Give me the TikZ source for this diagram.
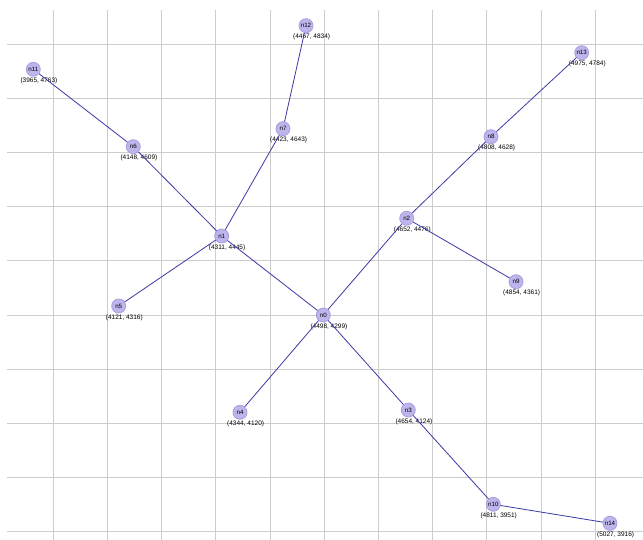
\documentclass[tikz,border=0pt]{standalone}
\usepackage{fontspec}
\setmainfont{Liberation Sans}
\pgfdeclarelayer{gridlayer}
\pgfdeclarelayer{labellayer}
\pgfdeclarelayer{edgelayer}
\pgfsetlayers{gridlayer,labellayer,edgelayer,main}
\definecolor{gridc}{HTML}{CCCCCC}
\definecolor{nodefill}{HTML}{BDB5EC}
\definecolor{nodeline}{HTML}{A99FE0}
\definecolor{edgec}{HTML}{3A3AA6}
\tikzset{
  vert/.style={circle, fill=nodefill, draw=nodeline, line width=0.8pt, minimum size=14pt, inner sep=0pt, font=\fontsize{6.2}{7}\selectfont},
  coordlab/.style={anchor=west, inner sep=0pt, font=\fontsize{6.5}{7}\selectfont},
  edge/.style={draw=edgec, line width=0.8pt},
  gridline/.style={draw=gridc, line width=0.9pt}
}
\newcommand{\vtx}[4]{%
  \node[vert] (#1) at (#2,#3) {#1};
  \begin{pgfonlayer}{labellayer}
    \node[coordlab] (#1l) at ([xshift=-13pt,yshift=-11.6pt]#1.center) {#4};
  \end{pgfonlayer}}
\begin{document}
\begin{tikzpicture}[x=1pt,y=-1pt]
\useasboundingbox (0,0) rectangle (643,540);
\begin{pgfonlayer}{gridlayer}
\fill[white] (0,0) rectangle (643,540);
\foreach \k in {0,...,10} {\draw[gridline] (53.3+54.2*\k,10) -- (53.3+54.2*\k,540);}
\foreach \k in {0,...,9} {\draw[gridline] (7,44+54.2*\k) -- (643,44+54.2*\k);}
\end{pgfonlayer}
\vtx{n0}{323.3}{315}{(4498, 4299)}
\vtx{n1}{221.7}{236}{(4311, 4445)}
\vtx{n2}{406.7}{218.3}{(4652, 4476)}
\vtx{n3}{408.3}{410}{(4654, 4124)}
\vtx{n4}{240}{412.3}{(4344, 4120)}
\vtx{n5}{118.7}{306}{(4121, 4316)}
\vtx{n6}{133.3}{146.7}{(4148, 4609)}
\vtx{n7}{283}{128.7}{(4423, 4643)}
\vtx{n8}{491}{136.7}{(4808, 4628)}
\vtx{n9}{516}{281.7}{(4854, 4361)}
\vtx{n10}{493.3}{504.3}{(4811, 3951)}
\vtx{n11}{33.3}{69.3}{(3965, 4763)}
\vtx{n12}{306}{25.7}{(4467, 4834)}
\vtx{n13}{581.7}{52.7}{(4975, 4784)}
\vtx{n14}{610}{523.3}{(5027, 3916)}
\begin{pgfonlayer}{edgelayer}
\foreach \a/\b in {n11/n6, n6/n1, n1/n7, n7/n12, n1/n5, n1/n0, n0/n2, n2/n8, n8/n13, n2/n9, n0/n4, n0/n3, n3/n10, n10/n14}
  {\draw[edge] (\a.center) -- (\b.center);}
\end{pgfonlayer}
\end{tikzpicture}
\end{document}
